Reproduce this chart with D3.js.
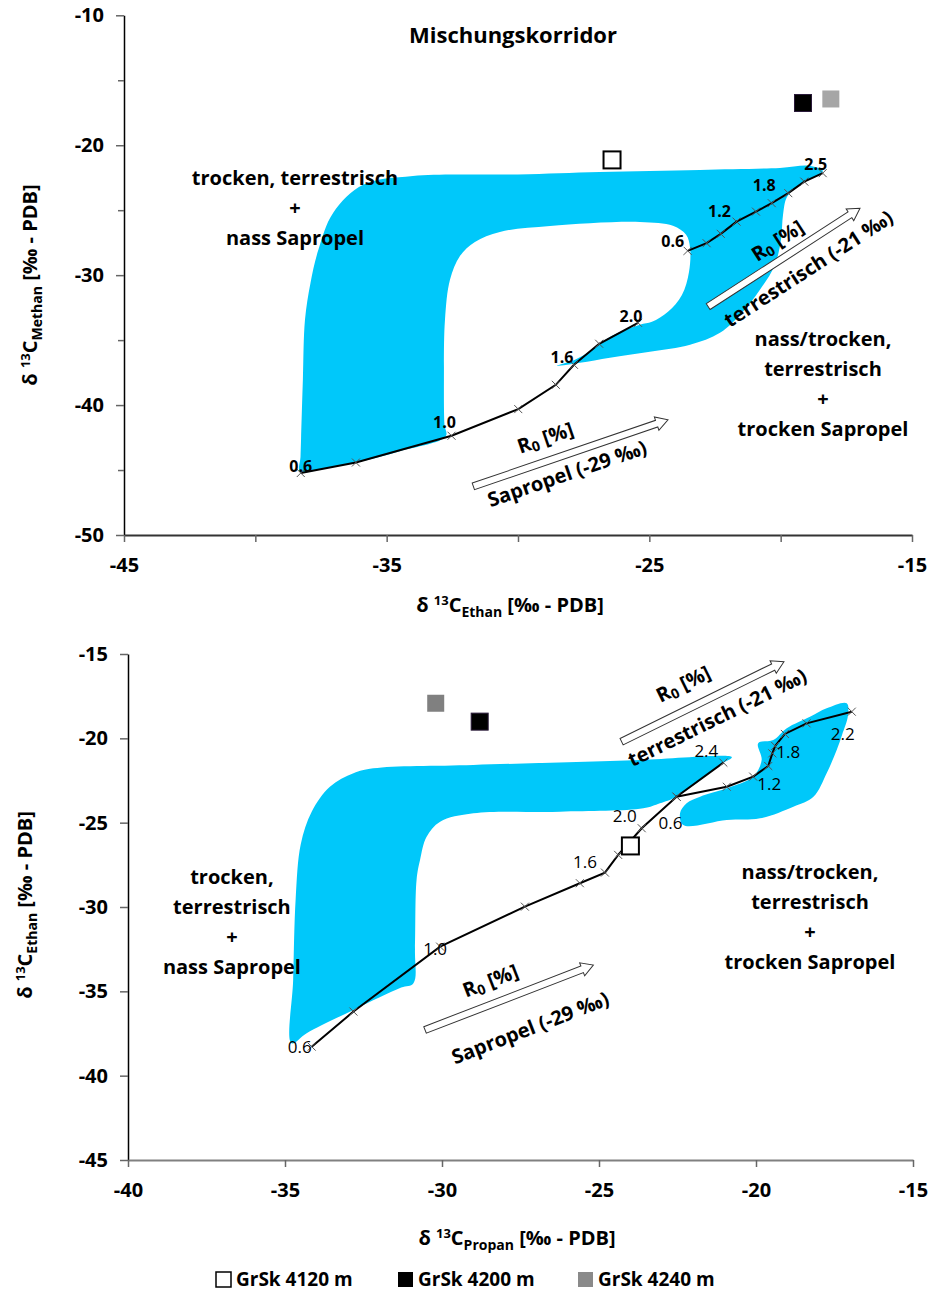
<!DOCTYPE html>
<html>
<head>
<meta charset="utf-8">
<script src="https://cdn.jsdelivr.net/npm/d3@7"></script>
<style>
  body { margin: 0; background: #fff; }
  text { font-family: "Open Sans", Lato, sans-serif; fill: #000; }
</style>
</head>
<body>
<svg id="chart" width="933" height="1292"></svg>
<script>
// ---------- top panel: d13C methane vs. ethane ----------
var topSapX = [-38.27, -36.17, -32.53, -29.99, -28.56, -27.87, -26.91, -25.43];
var topSapY = [-45.23, -44.42, -42.36, -40.31, -38.44, -36.90, -35.28, -33.67];
var topSapLabelIdx = [0, 2, 5, 7];
var topSapLabels = ["0.6", "1.0", "1.6", "2.0"];

var topTerX = [-23.54, -22.82, -22.28, -21.68, -20.94, -20.34, -19.71, -19.10, -18.40];
var topTerY = [-28.13, -27.54, -26.82, -25.88, -25.11, -24.46, -23.69, -22.80, -22.15];
var topTerLabelIdx = [0, 3, 6, 8];
var topTerLabels = ["0.6", "1.2", "1.8", "2.5"];

// outline of the "Mischungskorridor"
var topCorrX = [-38.30, -38.28, -38.26, -38.19, -38.11, -37.90, -37.60, -37.04, -35.90, -34.00,
                -30.00, -26.88, -23.07, -20.03, -18.89, -18.39, -19.29, -19.76, -19.91, -19.99,
                -20.22, -20.79, -21.44, -22.31, -23.45, -24.98, -26.50, -27.64, -28.52, -27.83,
                -27.18, -26.42, -25.36, -24.90, -24.29, -23.76, -23.49, -23.45, -23.60, -24.10,
                -25.36, -28.78, -30.69, -31.64, -32.21, -32.59, -32.78, -32.82, -32.80, -32.75,
                -34.50, -36.17, -37.30];
var topCorrY = [-45.13, -44.00, -42.67, -38.05, -33.44, -30.60, -28.05, -25.21, -23.05, -22.36,
                -22.25, -22.06, -21.90, -21.75, -21.59, -21.98, -23.05, -23.98, -25.36, -27.29,
                -29.21, -31.13, -32.82, -34.44, -35.36, -35.90, -36.36, -36.75, -36.98, -36.52,
                -35.75, -34.67, -33.82, -33.59, -32.82, -31.52, -29.75, -27.90, -26.90, -26.20,
                -25.90, -26.21, -26.67, -27.44, -28.52, -30.36, -33.44, -38.05, -41.50, -42.40,
                -43.55, -44.42, -44.85];

var topSampleX = [-26.42, -19.15, -18.09];
var topSampleY = [-21.13, -16.75, -16.44];

// ---------- bottom panel: d13C ethane vs. propane ----------
var botSapX = [-34.15, -32.82, -30.06, -27.36, -25.61, -24.81, -24.39, -23.64, -22.53, -21.04];
var botSapY = [-38.28, -36.20, -32.35, -29.98, -28.59, -27.96, -26.91, -25.33, -23.46, -21.44];
var botSapLabelIdx = [0, 2, 5, 7, 9];
var botSapLabels = ["0.6", "1.0", "1.6", "2.0", "2.4"];

var botTerX = [-22.53, -20.93, -20.09, -19.61, -19.48, -19.39, -19.08, -18.39, -16.95];
var botTerY = [-23.46, -22.87, -22.27, -21.64, -20.89, -20.45, -19.74, -19.11, -18.42];
var botTerLabelIdx = [0, 2, 4, 8];
var botTerLabels = ["0.6", "1.2", "1.8", "2.2"];

var botBandX = [-34.79, -34.74, -34.66, -34.50, -34.15, -33.57, -32.82, -32.19, -29.00, -23.69,
                -20.77, -21.05, -22.53, -23.06, -23.59, -26.24, -29.00, -30.06, -30.49, -30.70,
                -30.81, -30.86, -30.91, -31.30, -32.82, -34.31];
var botBandY = [-38.08, -34.32, -29.50, -26.30, -24.35, -22.87, -22.07, -21.78, -21.58, -21.28,
                -21.12, -21.46, -23.46, -23.85, -24.15, -24.35, -24.44, -24.94, -25.83, -27.21,
                -28.40, -32.50, -34.52, -34.78, -36.10, -37.48];

var botLobeX = [-22.32, -20.93, -19.87, -18.81, -18.17, -17.75, -17.43, -17.26, -17.07, -17.11,
                -17.75, -18.28, -19.02, -19.45, -19.93, -19.82, -20.09, -20.93, -21.78, -22.21, -22.42];
var botLobeY = [-25.14, -24.84, -24.74, -24.05, -23.46, -22.07, -20.69, -19.80, -18.63, -17.92,
                -18.22, -18.72, -19.40, -20.10, -20.29, -21.28, -22.27, -22.96, -23.46, -23.85, -24.44];

var botSampleX = [-24.0, -28.8, -30.2];
var botSampleY = [-26.38, -19.01, -17.92];

var sampleNames = ["GrSk 4120 m", "GrSk 4200 m", "GrSk 4240 m"];

var corridorColor = "#00c8fa";

var svg = d3.select("#chart");

function zip(xs, ys) {
  return xs.map(function(v, i) { return [v, ys[i]]; });
}

function arrow(g, x, y, tail, head) {
  var x0 = x(tail[0]), y0 = y(tail[1]), x1 = x(head[0]), y1 = y(head[1]);
  var len = Math.hypot(x1 - x0, y1 - y0);
  var ang = Math.atan2(y1 - y0, x1 - x0) * 180 / Math.PI;
  var w = 3.5, hl = 12, hw = 7;
  var pts = [[0, -w], [len - hl, -w], [len - hl, -hw], [len, 0], [len - hl, hw], [len - hl, w], [0, w]];
  g.append("path")
    .attr("d", "M" + pts.join("L") + "Z")
    .attr("transform", "translate(" + x0 + "," + y0 + ") rotate(" + ang + ")")
    .attr("fill", "#fff")
    .attr("stroke", "#333")
    .attr("stroke-width", 1);
  return ang;
}

function rotLabel(g, x, y, pos, ang, parts, size) {
  var t = g.append("text")
    .attr("transform", "translate(" + x(pos[0]) + "," + y(pos[1]) + ") rotate(" + ang + ")")
    .attr("text-anchor", "middle")
    .attr("dominant-baseline", "central")
    .style("font-size", size + "px")
    .style("font-weight", "bold");
  parts.forEach(function(p) {
    var s = t.append("tspan").text(p.t);
    if (p.sub) s.attr("dy", 5).style("font-size", (size * 0.7) + "px");
    if (p.back) s.attr("dy", -5);
  });
}

function textBlock(g, x, y, pos, lines, lh) {
  lines.forEach(function(l, i) {
    g.append("text")
      .attr("x", x(pos[0]))
      .attr("y", y(pos[1]) + i * lh)
      .attr("text-anchor", "middle")
      .attr("dominant-baseline", "central")
      .style("font-size", "20px")
      .style("font-weight", "bold")
      .text(l);
  });
}

function axisTitle(g, px, py, rot, species) {
  var t = g.append("text")
    .attr("transform", "translate(" + px + "," + py + ") rotate(" + rot + ")")
    .attr("text-anchor", "middle")
    .style("font-size", "20px")
    .style("font-weight", "bold");
  t.append("tspan").text("\u03b4 ");
  t.append("tspan").attr("dy", -7).style("font-size", "13px").text("13");
  t.append("tspan").attr("dy", 7).text("C");
  t.append("tspan").attr("dy", 5).style("font-size", "14px").text(species);
  t.append("tspan").attr("dy", -5).text(" [\u2030 - PDB]");
}

function drawPanel(p) {
  var g = svg.append("g");
  var x = d3.scaleLinear().domain(p.xDomain).range(p.xRange);
  var y = d3.scaleLinear().domain(p.yDomain).range(p.yRange);

  // corridor polygons
  var area = d3.line().x(function(d) { return x(d[0]); }).y(function(d) { return y(d[1]); })
    .curve(d3.curveCatmullRomClosed.alpha(0.5));
  p.polys.forEach(function(poly) {
    g.append("path").attr("d", area(poly)).attr("fill", corridorColor).attr("stroke", "none");
  });

  // axes
  var yAxis = g.append("g")
    .attr("transform", "translate(" + p.xRange[0] + ",0)")
    .call(d3.axisLeft(y).tickValues(p.yTicks).tickSize(8).tickSizeOuter(0).tickPadding(12)
      .tickFormat(function(d) { return p.yLabels.indexOf(d) >= 0 ? String(d) : ""; }));
  var xAxis = g.append("g")
    .attr("transform", "translate(0," + p.yRange[0] + ")")
    .call(d3.axisBottom(x).tickValues(p.xTicks).tickSize(7).tickSizeOuter(0).tickPadding(16)
      .tickFormat(function(d) { return p.xLabels.indexOf(d) >= 0 ? String(d) : ""; }));
  [yAxis, xAxis].forEach(function(a) {
    a.selectAll("text").style("font-size", "20px").style("font-weight", "bold")
      .style("font-family", "'Open Sans', sans-serif").attr("fill", "#000");
    a.selectAll(".tick line").attr("stroke", "#666").attr("stroke-width", 1.5);
  });
  yAxis.select(".domain").attr("stroke", "#000").attr("stroke-width", 1.5);
  xAxis.select(".domain").attr("stroke", p.xAxisColor).attr("stroke-width", 1.8);
  yAxis.selectAll(".tick").filter(function(d) { return p.yLabels.indexOf(d) < 0; })
    .select("line").attr("x2", -6);

  // maturity lines with x markers and R0 labels
  var line = d3.line().x(function(d) { return x(d[0]); }).y(function(d) { return y(d[1]); });
  p.series.forEach(function(s) {
    g.append("path").attr("d", line(s.pts)).attr("fill", "none")
      .attr("stroke", "#000").attr("stroke-width", 2);
    g.selectAll(null).data(s.pts).enter().append("path")
      .attr("d", "M-4,-4L4,4M-4,4L4,-4")
      .attr("transform", function(d) { return "translate(" + x(d[0]) + "," + y(d[1]) + ")"; })
      .attr("stroke", "#555").attr("stroke-width", 1);
    s.idx.forEach(function(k, j) {
      g.append("text")
        .attr("x", x(s.pts[k][0]) + s.off[j][0])
        .attr("y", y(s.pts[k][1]) + s.off[j][1])
        .attr("text-anchor", "middle")
        .style("font-size", p.rSize + "px")
        .style("font-weight", p.rWeight)
        .text(s.labels[j]);
    });
  });

  // arrows with rotated labels
  p.arrows.forEach(function(a) {
    var ang = arrow(g, x, y, a.tail, a.head);
    rotLabel(g, x, y, a.rPos, ang, [{t: "R"}, {t: "0", sub: true}, {t: " [%]", back: true}], 20);
    rotLabel(g, x, y, a.tPos, ang, [{t: a.text}], 20);
  });

  p.blocks.forEach(function(b) { textBlock(g, x, y, b.pos, b.lines, b.lh); });

  // sample squares
  g.selectAll(null).data(zip(p.sampleX, p.sampleY)).enter().append("rect")
    .attr("x", function(d) { return x(d[0]) - p.sq / 2; })
    .attr("y", function(d) { return y(d[1]) - p.sq / 2; })
    .attr("width", p.sq).attr("height", p.sq)
    .attr("fill", function(d, i) { return p.sampleFill[i]; })
    .attr("stroke", function(d, i) { return i === 0 ? "#000" : (i === 1 ? "#2a1a3a" : "none"); })
    .attr("stroke-width", function(d, i) { return i === 0 ? 2 : 1; });

  if (p.title) {
    g.append("text").attr("x", x(p.title.pos[0])).attr("y", y(p.title.pos[1]))
      .attr("text-anchor", "middle").attr("dominant-baseline", "central")
      .style("font-size", "22px").style("font-weight", "bold").text(p.title.text);
  }

  axisTitle(g, p.xTitle[0], p.xTitle[1], 0, p.xSpecies);
  axisTitle(g, p.yTitle[0], p.yTitle[1], -90, p.ySpecies);
}

var rightLines = ["nass/trocken,", "terrestrisch", "+", "trocken Sapropel"];

drawPanel({
  xDomain: [-45, -15], xRange: [124, 912],
  yDomain: [-50, -10], yRange: [535, 15.3],
  xTicks: d3.range(-45, -14, 5), xLabels: [-45, -35, -25, -15],
  yTicks: d3.range(-50, -9, 5), yLabels: [-50, -40, -30, -20, -10],
  xAxisColor: "#333",
  polys: [zip(topCorrX, topCorrY)],
  rSize: 16, rWeight: "bold",
  series: [
    {pts: zip(topSapX, topSapY), idx: topSapLabelIdx, labels: topSapLabels,
     off: [[0, -1], [-7, -8], [-12, -2], [-7, -1]]},
    {pts: zip(topTerX, topTerY), idx: topTerLabelIdx, labels: topTerLabels,
     off: [[-15, -4], [-17, -5], [-24, -2], [-7, -3]]}
  ],
  arrows: [
    {tail: [-31.70, -46.26], head: [-24.29, -41.13], rPos: [-28.97, -42.44],
     tPos: [-28.14, -45.2], text: "Sapropel (-29 \u2030)"},
    {tail: [-22.76, -32.42], head: [-16.98, -24.85], rPos: [-20.14, -27.28],
     tPos: [-18.96, -29.44], text: "terrestrisch (-21 \u2030)"}
  ],
  blocks: [
    {pos: [-38.49, -22.52], lines: ["trocken, terrestrisch", "+", "nass Sapropel"], lh: 30},
    {pos: [-18.39, -34.9], lines: rightLines, lh: 30}
  ],
  sampleX: topSampleX, sampleY: topSampleY, sq: 17,
  sampleFill: ["#fff", "#000", "#a6a6a6"],
  title: {pos: [-30.19, -11.44], text: "Mischungskorridor"},
  xTitle: [510, 612], xSpecies: "Ethan",
  yTitle: [37, 285], ySpecies: "Methan"
});

drawPanel({
  xDomain: [-40, -15], xRange: [128, 913],
  yDomain: [-45, -15], yRange: [1160, 654],
  xTicks: d3.range(-40, -14, 5), xLabels: d3.range(-40, -14, 5),
  yTicks: d3.range(-45, -14, 5), yLabels: d3.range(-45, -14, 5),
  xAxisColor: "#808080",
  polys: [zip(botBandX, botBandY), zip(botLobeX, botLobeY)],
  rSize: 17, rWeight: "normal",
  series: [
    {pts: zip(botSapX, botSapY), idx: botSapLabelIdx, labels: botSapLabels,
     off: [[-12, 6], [-5, 8], [-20, -5], [-17, -6], [-17, -6]]},
    {pts: zip(botTerX, botTerY), idx: botTerLabelIdx, labels: botTerLabels,
     off: [[-6, 32], [16, 13], [16, 5], [-9, 28]]}
  ],
  arrows: [
    {tail: [-24.28, -20.20], head: [-19.11, -15.46], rPos: [-22.33, -16.72],
     tPos: [-21.25, -18.72], text: "terrestrisch (-21 \u2030)"},
    {tail: [-30.54, -37.29], head: [-25.18, -33.44], rPos: [-28.47, -34.32],
     tPos: [-27.2, -37.11], text: "Sapropel (-29 \u2030)"}
  ],
  blocks: [
    {pos: [-36.69, -28.22], lines: ["trocken,", "terrestrisch", "+", "nass Sapropel"], lh: 29.7},
    {pos: [-18.28, -27.92], lines: rightLines, lh: 30}
  ],
  sampleX: botSampleX, sampleY: botSampleY, sq: 17,
  sampleFill: ["#fff", "#000", "#808080"],
  title: null,
  xTitle: [517, 1245], xSpecies: "Propan",
  yTitle: [32, 905], ySpecies: "Ethan"
});

// legend
var legendFill = ["#fff", "#000", "#8a8a8a"];
var legendX = [216, 398, 578];
var legend = svg.append("g");
sampleNames.forEach(function(n, i) {
  legend.append("rect").attr("x", legendX[i]).attr("y", 1272).attr("width", 15).attr("height", 15)
    .attr("fill", legendFill[i])
    .attr("stroke", i === 0 ? "#000" : "none").attr("stroke-width", 1.5);
  legend.append("text").attr("x", legendX[i] + 20).attr("y", 1286)
    .style("font-size", "19px").style("font-weight", "bold").text(n);
});
</script>
</body>
</html>
